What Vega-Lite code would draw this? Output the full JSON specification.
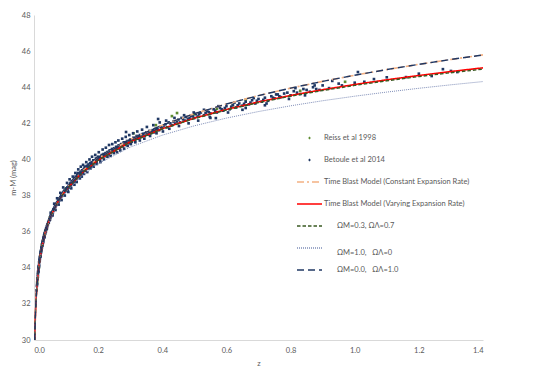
{
  "$schema": "https://vega.github.io/schema/vega-lite/v6.json",
  "width": 449,
  "height": 325,
  "autosize": {"type": "none"},
  "padding": {"left": 34, "top": 15, "right": 60, "bottom": 31},
  "background": "white",
  "config": {
    "view": {"stroke": null},
    "font": "Lato",
    "axis": {"labelFont": "Lato", "titleFont": "Lato", "labelColor": "#595959", "titleColor": "#595959", "labelFontSize": 7.5, "titleFontSize": 7.5, "titleFontWeight": "normal", "grid": false, "ticks": false, "domainColor": "#D9D9D9", "labelOverlap": false}
  },
  "datasets": {
    "pts": [
      {"z": 0.01, "mu": 33.2, "series": "Reiss et al 1998"},
      {"z": 0.015, "mu": 34.0, "series": "Reiss et al 1998"},
      {"z": 0.02, "mu": 34.75, "series": "Reiss et al 1998"},
      {"z": 0.025, "mu": 35.3, "series": "Reiss et al 1998"},
      {"z": 0.03, "mu": 35.65, "series": "Reiss et al 1998"},
      {"z": 0.035, "mu": 36.0, "series": "Reiss et al 1998"},
      {"z": 0.04, "mu": 36.2, "series": "Reiss et al 1998"},
      {"z": 0.05, "mu": 36.8, "series": "Reiss et al 1998"},
      {"z": 0.06, "mu": 37.2, "series": "Reiss et al 1998"},
      {"z": 0.075, "mu": 37.65, "series": "Reiss et al 1998"},
      {"z": 0.1, "mu": 38.4, "series": "Reiss et al 1998"},
      {"z": 0.125, "mu": 38.9, "series": "Reiss et al 1998"},
      {"z": 0.16, "mu": 39.5, "series": "Reiss et al 1998"},
      {"z": 0.31, "mu": 41.45, "series": "Reiss et al 1998"},
      {"z": 0.38, "mu": 41.9, "series": "Reiss et al 1998"},
      {"z": 0.43, "mu": 42.4, "series": "Reiss et al 1998"},
      {"z": 0.446, "mu": 42.57, "series": "Reiss et al 1998"},
      {"z": 0.5, "mu": 42.5, "series": "Reiss et al 1998"},
      {"z": 0.57, "mu": 42.8, "series": "Reiss et al 1998"},
      {"z": 0.62, "mu": 43.0, "series": "Reiss et al 1998"},
      {"z": 0.66, "mu": 43.3, "series": "Reiss et al 1998"},
      {"z": 0.83, "mu": 43.8, "series": "Reiss et al 1998"},
      {"z": 0.97, "mu": 44.3, "series": "Reiss et al 1998"},
      {"z": 0.008, "mu": 32.75, "series": "Betoule et al 2014"},
      {"z": 0.009, "mu": 33.0, "series": "Betoule et al 2014"},
      {"z": 0.010, "mu": 33.1, "series": "Betoule et al 2014"},
      {"z": 0.0105, "mu": 33.35, "series": "Betoule et al 2014"},
      {"z": 0.011, "mu": 33.4, "series": "Betoule et al 2014"},
      {"z": 0.0115, "mu": 33.42, "series": "Betoule et al 2014"},
      {"z": 0.012, "mu": 33.62, "series": "Betoule et al 2014"},
      {"z": 0.012, "mu": 33.5, "series": "Betoule et al 2014"},
      {"z": 0.0125, "mu": 33.72, "series": "Betoule et al 2014"},
      {"z": 0.013, "mu": 33.8, "series": "Betoule et al 2014"},
      {"z": 0.0135, "mu": 33.78, "series": "Betoule et al 2014"},
      {"z": 0.014, "mu": 33.95, "series": "Betoule et al 2014"},
      {"z": 0.014, "mu": 33.85, "series": "Betoule et al 2014"},
      {"z": 0.0145, "mu": 34.05, "series": "Betoule et al 2014"},
      {"z": 0.015, "mu": 34.1, "series": "Betoule et al 2014"},
      {"z": 0.0155, "mu": 34.05, "series": "Betoule et al 2014"},
      {"z": 0.016, "mu": 34.15, "series": "Betoule et al 2014"},
      {"z": 0.016, "mu": 34.3, "series": "Betoule et al 2014"},
      {"z": 0.0165, "mu": 34.35, "series": "Betoule et al 2014"},
      {"z": 0.017, "mu": 34.38, "series": "Betoule et al 2014"},
      {"z": 0.0175, "mu": 34.45, "series": "Betoule et al 2014"},
      {"z": 0.018, "mu": 34.5, "series": "Betoule et al 2014"},
      {"z": 0.018, "mu": 34.42, "series": "Betoule et al 2014"},
      {"z": 0.0185, "mu": 34.58, "series": "Betoule et al 2014"},
      {"z": 0.019, "mu": 34.62, "series": "Betoule et al 2014"},
      {"z": 0.0195, "mu": 34.65, "series": "Betoule et al 2014"},
      {"z": 0.020, "mu": 34.75, "series": "Betoule et al 2014"},
      {"z": 0.020, "mu": 34.63, "series": "Betoule et al 2014"},
      {"z": 0.0205, "mu": 34.78, "series": "Betoule et al 2014"},
      {"z": 0.021, "mu": 34.85, "series": "Betoule et al 2014"},
      {"z": 0.0215, "mu": 34.92, "series": "Betoule et al 2014"},
      {"z": 0.022, "mu": 34.95, "series": "Betoule et al 2014"},
      {"z": 0.022, "mu": 34.86, "series": "Betoule et al 2014"},
      {"z": 0.023, "mu": 35.05, "series": "Betoule et al 2014"},
      {"z": 0.0235, "mu": 35.1, "series": "Betoule et al 2014"},
      {"z": 0.024, "mu": 35.15, "series": "Betoule et al 2014"},
      {"z": 0.024, "mu": 35.02, "series": "Betoule et al 2014"},
      {"z": 0.0245, "mu": 35.12, "series": "Betoule et al 2014"},
      {"z": 0.025, "mu": 35.23, "series": "Betoule et al 2014"},
      {"z": 0.0255, "mu": 35.3, "series": "Betoule et al 2014"},
      {"z": 0.026, "mu": 35.35, "series": "Betoule et al 2014"},
      {"z": 0.026, "mu": 35.22, "series": "Betoule et al 2014"},
      {"z": 0.0265, "mu": 35.28, "series": "Betoule et al 2014"},
      {"z": 0.027, "mu": 35.4, "series": "Betoule et al 2014"},
      {"z": 0.0275, "mu": 35.48, "series": "Betoule et al 2014"},
      {"z": 0.028, "mu": 35.5, "series": "Betoule et al 2014"},
      {"z": 0.028, "mu": 35.38, "series": "Betoule et al 2014"},
      {"z": 0.0285, "mu": 35.45, "series": "Betoule et al 2014"},
      {"z": 0.029, "mu": 35.57, "series": "Betoule et al 2014"},
      {"z": 0.0295, "mu": 35.6, "series": "Betoule et al 2014"},
      {"z": 0.030, "mu": 35.62, "series": "Betoule et al 2014"},
      {"z": 0.0305, "mu": 35.68, "series": "Betoule et al 2014"},
      {"z": 0.031, "mu": 35.7, "series": "Betoule et al 2014"},
      {"z": 0.0315, "mu": 35.77, "series": "Betoule et al 2014"},
      {"z": 0.032, "mu": 35.8, "series": "Betoule et al 2014"},
      {"z": 0.032, "mu": 35.68, "series": "Betoule et al 2014"},
      {"z": 0.0325, "mu": 35.72, "series": "Betoule et al 2014"},
      {"z": 0.033, "mu": 35.85, "series": "Betoule et al 2014"},
      {"z": 0.0335, "mu": 35.9, "series": "Betoule et al 2014"},
      {"z": 0.034, "mu": 35.92, "series": "Betoule et al 2014"},
      {"z": 0.0345, "mu": 35.88, "series": "Betoule et al 2014"},
      {"z": 0.035, "mu": 35.98, "series": "Betoule et al 2014"},
      {"z": 0.0355, "mu": 36.05, "series": "Betoule et al 2014"},
      {"z": 0.036, "mu": 36.05, "series": "Betoule et al 2014"},
      {"z": 0.0365, "mu": 36.0, "series": "Betoule et al 2014"},
      {"z": 0.037, "mu": 36.02, "series": "Betoule et al 2014"},
      {"z": 0.0375, "mu": 36.12, "series": "Betoule et al 2014"},
      {"z": 0.038, "mu": 36.18, "series": "Betoule et al 2014"},
      {"z": 0.039, "mu": 36.15, "series": "Betoule et al 2014"},
      {"z": 0.040, "mu": 36.28, "series": "Betoule et al 2014"},
      {"z": 0.040, "mu": 36.18, "series": "Betoule et al 2014"},
      {"z": 0.041, "mu": 36.32, "series": "Betoule et al 2014"},
      {"z": 0.042, "mu": 36.4, "series": "Betoule et al 2014"},
      {"z": 0.043, "mu": 36.38, "series": "Betoule et al 2014"},
      {"z": 0.044, "mu": 36.48, "series": "Betoule et al 2014"},
      {"z": 0.045, "mu": 36.55, "series": "Betoule et al 2014"},
      {"z": 0.046, "mu": 36.5, "series": "Betoule et al 2014"},
      {"z": 0.047, "mu": 36.62, "series": "Betoule et al 2014"},
      {"z": 0.048, "mu": 36.7, "series": "Betoule et al 2014"},
      {"z": 0.049, "mu": 36.65, "series": "Betoule et al 2014"},
      {"z": 0.050, "mu": 36.78, "series": "Betoule et al 2014"},
      {"z": 0.050, "mu": 36.68, "series": "Betoule et al 2014"},
      {"z": 0.051, "mu": 36.82, "series": "Betoule et al 2014"},
      {"z": 0.052, "mu": 36.9, "series": "Betoule et al 2014"},
      {"z": 0.052, "mu": 37.05, "series": "Betoule et al 2014"},
      {"z": 0.053, "mu": 36.85, "series": "Betoule et al 2014"},
      {"z": 0.054, "mu": 36.98, "series": "Betoule et al 2014"},
      {"z": 0.055, "mu": 37.0, "series": "Betoule et al 2014"},
      {"z": 0.056, "mu": 37.05, "series": "Betoule et al 2014"},
      {"z": 0.057, "mu": 37.02, "series": "Betoule et al 2014"},
      {"z": 0.058, "mu": 37.12, "series": "Betoule et al 2014"},
      {"z": 0.058, "mu": 36.9, "series": "Betoule et al 2014"},
      {"z": 0.059, "mu": 37.08, "series": "Betoule et al 2014"},
      {"z": 0.060, "mu": 37.2, "series": "Betoule et al 2014"},
      {"z": 0.061, "mu": 37.25, "series": "Betoule et al 2014"},
      {"z": 0.062, "mu": 37.22, "series": "Betoule et al 2014"},
      {"z": 0.063, "mu": 37.25, "series": "Betoule et al 2014"},
      {"z": 0.063, "mu": 37.55, "series": "Betoule et al 2014"},
      {"z": 0.064, "mu": 37.32, "series": "Betoule et al 2014"},
      {"z": 0.065, "mu": 37.38, "series": "Betoule et al 2014"},
      {"z": 0.066, "mu": 37.36, "series": "Betoule et al 2014"},
      {"z": 0.067, "mu": 37.45, "series": "Betoule et al 2014"},
      {"z": 0.067, "mu": 37.2, "series": "Betoule et al 2014"},
      {"z": 0.068, "mu": 37.46, "series": "Betoule et al 2014"},
      {"z": 0.069, "mu": 37.48, "series": "Betoule et al 2014"},
      {"z": 0.070, "mu": 37.55, "series": "Betoule et al 2014"},
      {"z": 0.071, "mu": 37.52, "series": "Betoule et al 2014"},
      {"z": 0.072, "mu": 37.6, "series": "Betoule et al 2014"},
      {"z": 0.072, "mu": 37.85, "series": "Betoule et al 2014"},
      {"z": 0.073, "mu": 37.62, "series": "Betoule et al 2014"},
      {"z": 0.074, "mu": 37.58, "series": "Betoule et al 2014"},
      {"z": 0.075, "mu": 37.7, "series": "Betoule et al 2014"},
      {"z": 0.076, "mu": 37.72, "series": "Betoule et al 2014"},
      {"z": 0.077, "mu": 37.68, "series": "Betoule et al 2014"},
      {"z": 0.077, "mu": 37.5, "series": "Betoule et al 2014"},
      {"z": 0.078, "mu": 37.72, "series": "Betoule et al 2014"},
      {"z": 0.079, "mu": 37.8, "series": "Betoule et al 2014"},
      {"z": 0.080, "mu": 37.85, "series": "Betoule et al 2014"},
      {"z": 0.081, "mu": 37.82, "series": "Betoule et al 2014"},
      {"z": 0.082, "mu": 37.9, "series": "Betoule et al 2014"},
      {"z": 0.082, "mu": 38.15, "series": "Betoule et al 2014"},
      {"z": 0.083, "mu": 37.92, "series": "Betoule et al 2014"},
      {"z": 0.084, "mu": 37.92, "series": "Betoule et al 2014"},
      {"z": 0.085, "mu": 38.0, "series": "Betoule et al 2014"},
      {"z": 0.086, "mu": 38.02, "series": "Betoule et al 2014"},
      {"z": 0.086, "mu": 37.75, "series": "Betoule et al 2014"},
      {"z": 0.087, "mu": 37.98, "series": "Betoule et al 2014"},
      {"z": 0.088, "mu": 38.03, "series": "Betoule et al 2014"},
      {"z": 0.089, "mu": 38.1, "series": "Betoule et al 2014"},
      {"z": 0.090, "mu": 38.12, "series": "Betoule et al 2014"},
      {"z": 0.091, "mu": 38.1, "series": "Betoule et al 2014"},
      {"z": 0.091, "mu": 38.45, "series": "Betoule et al 2014"},
      {"z": 0.092, "mu": 38.2, "series": "Betoule et al 2014"},
      {"z": 0.093, "mu": 38.16, "series": "Betoule et al 2014"},
      {"z": 0.094, "mu": 38.2, "series": "Betoule et al 2014"},
      {"z": 0.095, "mu": 38.25, "series": "Betoule et al 2014"},
      {"z": 0.096, "mu": 38.3, "series": "Betoule et al 2014"},
      {"z": 0.096, "mu": 38.0, "series": "Betoule et al 2014"},
      {"z": 0.097, "mu": 38.22, "series": "Betoule et al 2014"},
      {"z": 0.098, "mu": 38.27, "series": "Betoule et al 2014"},
      {"z": 0.099, "mu": 38.35, "series": "Betoule et al 2014"},
      {"z": 0.101, "mu": 38.3, "series": "Betoule et al 2014"},
      {"z": 0.102, "mu": 38.4, "series": "Betoule et al 2014"},
      {"z": 0.103, "mu": 38.7, "series": "Betoule et al 2014"},
      {"z": 0.104, "mu": 38.45, "series": "Betoule et al 2014"},
      {"z": 0.105, "mu": 38.3, "series": "Betoule et al 2014"},
      {"z": 0.106, "mu": 38.42, "series": "Betoule et al 2014"},
      {"z": 0.107, "mu": 38.2, "series": "Betoule et al 2014"},
      {"z": 0.108, "mu": 38.55, "series": "Betoule et al 2014"},
      {"z": 0.109, "mu": 38.48, "series": "Betoule et al 2014"},
      {"z": 0.11, "mu": 38.45, "series": "Betoule et al 2014"},
      {"z": 0.111, "mu": 38.9, "series": "Betoule et al 2014"},
      {"z": 0.112, "mu": 38.6, "series": "Betoule et al 2014"},
      {"z": 0.113, "mu": 38.65, "series": "Betoule et al 2014"},
      {"z": 0.114, "mu": 38.7, "series": "Betoule et al 2014"},
      {"z": 0.115, "mu": 38.55, "series": "Betoule et al 2014"},
      {"z": 0.116, "mu": 38.4, "series": "Betoule et al 2014"},
      {"z": 0.117, "mu": 38.65, "series": "Betoule et al 2014"},
      {"z": 0.118, "mu": 38.8, "series": "Betoule et al 2014"},
      {"z": 0.119, "mu": 38.72, "series": "Betoule et al 2014"},
      {"z": 0.12, "mu": 38.7, "series": "Betoule et al 2014"},
      {"z": 0.121, "mu": 39.05, "series": "Betoule et al 2014"},
      {"z": 0.122, "mu": 38.82, "series": "Betoule et al 2014"},
      {"z": 0.123, "mu": 38.85, "series": "Betoule et al 2014"},
      {"z": 0.124, "mu": 38.78, "series": "Betoule et al 2014"},
      {"z": 0.125, "mu": 38.95, "series": "Betoule et al 2014"},
      {"z": 0.126, "mu": 38.6, "series": "Betoule et al 2014"},
      {"z": 0.127, "mu": 38.78, "series": "Betoule et al 2014"},
      {"z": 0.128, "mu": 38.95, "series": "Betoule et al 2014"},
      {"z": 0.129, "mu": 39.25, "series": "Betoule et al 2014"},
      {"z": 0.13, "mu": 39.05, "series": "Betoule et al 2014"},
      {"z": 0.131, "mu": 39.0, "series": "Betoule et al 2014"},
      {"z": 0.132, "mu": 38.92, "series": "Betoule et al 2014"},
      {"z": 0.133, "mu": 38.75, "series": "Betoule et al 2014"},
      {"z": 0.134, "mu": 38.98, "series": "Betoule et al 2014"},
      {"z": 0.135, "mu": 39.15, "series": "Betoule et al 2014"},
      {"z": 0.136, "mu": 39.1, "series": "Betoule et al 2014"},
      {"z": 0.137, "mu": 39.25, "series": "Betoule et al 2014"},
      {"z": 0.138, "mu": 39.45, "series": "Betoule et al 2014"},
      {"z": 0.139, "mu": 39.15, "series": "Betoule et al 2014"},
      {"z": 0.14, "mu": 39.05, "series": "Betoule et al 2014"},
      {"z": 0.141, "mu": 39.1, "series": "Betoule et al 2014"},
      {"z": 0.142, "mu": 39.2, "series": "Betoule et al 2014"},
      {"z": 0.143, "mu": 38.95, "series": "Betoule et al 2014"},
      {"z": 0.144, "mu": 39.22, "series": "Betoule et al 2014"},
      {"z": 0.145, "mu": 39.3, "series": "Betoule et al 2014"},
      {"z": 0.146, "mu": 39.6, "series": "Betoule et al 2014"},
      {"z": 0.147, "mu": 39.32, "series": "Betoule et al 2014"},
      {"z": 0.148, "mu": 39.18, "series": "Betoule et al 2014"},
      {"z": 0.149, "mu": 39.05, "series": "Betoule et al 2014"},
      {"z": 0.15, "mu": 39.4, "series": "Betoule et al 2014"},
      {"z": 0.151, "mu": 39.35, "series": "Betoule et al 2014"},
      {"z": 0.152, "mu": 39.28, "series": "Betoule et al 2014"},
      {"z": 0.153, "mu": 39.7, "series": "Betoule et al 2014"},
      {"z": 0.154, "mu": 39.38, "series": "Betoule et al 2014"},
      {"z": 0.155, "mu": 39.45, "series": "Betoule et al 2014"},
      {"z": 0.156, "mu": 39.2, "series": "Betoule et al 2014"},
      {"z": 0.157, "mu": 39.48, "series": "Betoule et al 2014"},
      {"z": 0.158, "mu": 39.6, "series": "Betoule et al 2014"},
      {"z": 0.159, "mu": 39.45, "series": "Betoule et al 2014"},
      {"z": 0.16, "mu": 39.38, "series": "Betoule et al 2014"},
      {"z": 0.161, "mu": 39.58, "series": "Betoule et al 2014"},
      {"z": 0.162, "mu": 39.52, "series": "Betoule et al 2014"},
      {"z": 0.163, "mu": 39.85, "series": "Betoule et al 2014"},
      {"z": 0.164, "mu": 39.55, "series": "Betoule et al 2014"},
      {"z": 0.165, "mu": 39.65, "series": "Betoule et al 2014"},
      {"z": 0.166, "mu": 39.3, "series": "Betoule et al 2014"},
      {"z": 0.167, "mu": 39.6, "series": "Betoule et al 2014"},
      {"z": 0.168, "mu": 39.5, "series": "Betoule et al 2014"},
      {"z": 0.169, "mu": 39.62, "series": "Betoule et al 2014"},
      {"z": 0.17, "mu": 39.72, "series": "Betoule et al 2014"},
      {"z": 0.171, "mu": 39.68, "series": "Betoule et al 2014"},
      {"z": 0.172, "mu": 39.58, "series": "Betoule et al 2014"},
      {"z": 0.173, "mu": 40.0, "series": "Betoule et al 2014"},
      {"z": 0.174, "mu": 39.7, "series": "Betoule et al 2014"},
      {"z": 0.175, "mu": 39.8, "series": "Betoule et al 2014"},
      {"z": 0.176, "mu": 39.5, "series": "Betoule et al 2014"},
      {"z": 0.177, "mu": 39.75, "series": "Betoule et al 2014"},
      {"z": 0.178, "mu": 39.62, "series": "Betoule et al 2014"},
      {"z": 0.179, "mu": 39.72, "series": "Betoule et al 2014"},
      {"z": 0.18, "mu": 39.85, "series": "Betoule et al 2014"},
      {"z": 0.181, "mu": 40.15, "series": "Betoule et al 2014"},
      {"z": 0.182, "mu": 39.8, "series": "Betoule et al 2014"},
      {"z": 0.183, "mu": 39.74, "series": "Betoule et al 2014"},
      {"z": 0.184, "mu": 39.85, "series": "Betoule et al 2014"},
      {"z": 0.185, "mu": 39.95, "series": "Betoule et al 2014"},
      {"z": 0.186, "mu": 39.6, "series": "Betoule et al 2014"},
      {"z": 0.187, "mu": 39.9, "series": "Betoule et al 2014"},
      {"z": 0.188, "mu": 39.78, "series": "Betoule et al 2014"},
      {"z": 0.189, "mu": 39.88, "series": "Betoule et al 2014"},
      {"z": 0.19, "mu": 39.9, "series": "Betoule et al 2014"},
      {"z": 0.191, "mu": 40.25, "series": "Betoule et al 2014"},
      {"z": 0.192, "mu": 39.95, "series": "Betoule et al 2014"},
      {"z": 0.193, "mu": 40.05, "series": "Betoule et al 2014"},
      {"z": 0.194, "mu": 39.93, "series": "Betoule et al 2014"},
      {"z": 0.195, "mu": 39.85, "series": "Betoule et al 2014"},
      {"z": 0.196, "mu": 39.75, "series": "Betoule et al 2014"},
      {"z": 0.197, "mu": 40.08, "series": "Betoule et al 2014"},
      {"z": 0.198, "mu": 40.0, "series": "Betoule et al 2014"},
      {"z": 0.2, "mu": 40.15, "series": "Betoule et al 2014"},
      {"z": 0.201, "mu": 40.05, "series": "Betoule et al 2014"},
      {"z": 0.202, "mu": 40.4, "series": "Betoule et al 2014"},
      {"z": 0.203, "mu": 40.1, "series": "Betoule et al 2014"},
      {"z": 0.205, "mu": 40.12, "series": "Betoule et al 2014"},
      {"z": 0.206, "mu": 39.98, "series": "Betoule et al 2014"},
      {"z": 0.207, "mu": 39.85, "series": "Betoule et al 2014"},
      {"z": 0.208, "mu": 40.15, "series": "Betoule et al 2014"},
      {"z": 0.21, "mu": 40.2, "series": "Betoule et al 2014"},
      {"z": 0.212, "mu": 40.25, "series": "Betoule et al 2014"},
      {"z": 0.213, "mu": 40.12, "series": "Betoule et al 2014"},
      {"z": 0.214, "mu": 40.55, "series": "Betoule et al 2014"},
      {"z": 0.215, "mu": 40.22, "series": "Betoule et al 2014"},
      {"z": 0.217, "mu": 40.3, "series": "Betoule et al 2014"},
      {"z": 0.218, "mu": 40.0, "series": "Betoule et al 2014"},
      {"z": 0.219, "mu": 40.28, "series": "Betoule et al 2014"},
      {"z": 0.22, "mu": 40.18, "series": "Betoule et al 2014"},
      {"z": 0.223, "mu": 40.35, "series": "Betoule et al 2014"},
      {"z": 0.224, "mu": 40.65, "series": "Betoule et al 2014"},
      {"z": 0.225, "mu": 40.32, "series": "Betoule et al 2014"},
      {"z": 0.226, "mu": 40.25, "series": "Betoule et al 2014"},
      {"z": 0.228, "mu": 40.38, "series": "Betoule et al 2014"},
      {"z": 0.229, "mu": 40.15, "series": "Betoule et al 2014"},
      {"z": 0.23, "mu": 40.42, "series": "Betoule et al 2014"},
      {"z": 0.232, "mu": 40.36, "series": "Betoule et al 2014"},
      {"z": 0.233, "mu": 40.28, "series": "Betoule et al 2014"},
      {"z": 0.234, "mu": 40.8, "series": "Betoule et al 2014"},
      {"z": 0.235, "mu": 40.42, "series": "Betoule et al 2014"},
      {"z": 0.236, "mu": 40.5, "series": "Betoule et al 2014"},
      {"z": 0.238, "mu": 40.48, "series": "Betoule et al 2014"},
      {"z": 0.239, "mu": 40.2, "series": "Betoule et al 2014"},
      {"z": 0.24, "mu": 40.4, "series": "Betoule et al 2014"},
      {"z": 0.243, "mu": 40.58, "series": "Betoule et al 2014"},
      {"z": 0.244, "mu": 40.85, "series": "Betoule et al 2014"},
      {"z": 0.245, "mu": 40.52, "series": "Betoule et al 2014"},
      {"z": 0.246, "mu": 40.45, "series": "Betoule et al 2014"},
      {"z": 0.248, "mu": 40.55, "series": "Betoule et al 2014"},
      {"z": 0.249, "mu": 40.35, "series": "Betoule et al 2014"},
      {"z": 0.25, "mu": 40.62, "series": "Betoule et al 2014"},
      {"z": 0.253, "mu": 40.5, "series": "Betoule et al 2014"},
      {"z": 0.254, "mu": 40.95, "series": "Betoule et al 2014"},
      {"z": 0.255, "mu": 40.6, "series": "Betoule et al 2014"},
      {"z": 0.256, "mu": 40.7, "series": "Betoule et al 2014"},
      {"z": 0.258, "mu": 40.65, "series": "Betoule et al 2014"},
      {"z": 0.259, "mu": 40.4, "series": "Betoule et al 2014"},
      {"z": 0.26, "mu": 40.6, "series": "Betoule et al 2014"},
      {"z": 0.262, "mu": 40.7, "series": "Betoule et al 2014"},
      {"z": 0.263, "mu": 41.05, "series": "Betoule et al 2014"},
      {"z": 0.264, "mu": 40.78, "series": "Betoule et al 2014"},
      {"z": 0.266, "mu": 40.72, "series": "Betoule et al 2014"},
      {"z": 0.268, "mu": 40.65, "series": "Betoule et al 2014"},
      {"z": 0.269, "mu": 40.5, "series": "Betoule et al 2014"},
      {"z": 0.27, "mu": 40.8, "series": "Betoule et al 2014"},
      {"z": 0.272, "mu": 40.85, "series": "Betoule et al 2014"},
      {"z": 0.274, "mu": 40.82, "series": "Betoule et al 2014"},
      {"z": 0.275, "mu": 41.15, "series": "Betoule et al 2014"},
      {"z": 0.276, "mu": 40.72, "series": "Betoule et al 2014"},
      {"z": 0.278, "mu": 40.86, "series": "Betoule et al 2014"},
      {"z": 0.28, "mu": 40.95, "series": "Betoule et al 2014"},
      {"z": 0.281, "mu": 40.6, "series": "Betoule et al 2014"},
      {"z": 0.283, "mu": 40.9, "series": "Betoule et al 2014"},
      {"z": 0.285, "mu": 40.8, "series": "Betoule et al 2014"},
      {"z": 0.286, "mu": 41.25, "series": "Betoule et al 2014"},
      {"z": 0.287, "mu": 41.52, "series": "Betoule et al 2014"},
      {"z": 0.288, "mu": 40.95, "series": "Betoule et al 2014"},
      {"z": 0.29, "mu": 41.02, "series": "Betoule et al 2014"},
      {"z": 0.292, "mu": 40.75, "series": "Betoule et al 2014"},
      {"z": 0.293, "mu": 41.0, "series": "Betoule et al 2014"},
      {"z": 0.295, "mu": 40.9, "series": "Betoule et al 2014"},
      {"z": 0.297, "mu": 41.35, "series": "Betoule et al 2014"},
      {"z": 0.298, "mu": 41.02, "series": "Betoule et al 2014"},
      {"z": 0.3, "mu": 41.1, "series": "Betoule et al 2014"},
      {"z": 0.302, "mu": 40.85, "series": "Betoule et al 2014"},
      {"z": 0.303, "mu": 41.08, "series": "Betoule et al 2014"},
      {"z": 0.305, "mu": 40.98, "series": "Betoule et al 2014"},
      {"z": 0.308, "mu": 41.1, "series": "Betoule et al 2014"},
      {"z": 0.309, "mu": 41.45, "series": "Betoule et al 2014"},
      {"z": 0.31, "mu": 41.2, "series": "Betoule et al 2014"},
      {"z": 0.313, "mu": 41.15, "series": "Betoule et al 2014"},
      {"z": 0.315, "mu": 41.08, "series": "Betoule et al 2014"},
      {"z": 0.316, "mu": 40.95, "series": "Betoule et al 2014"},
      {"z": 0.318, "mu": 41.2, "series": "Betoule et al 2014"},
      {"z": 0.32, "mu": 41.3, "series": "Betoule et al 2014"},
      {"z": 0.322, "mu": 41.55, "series": "Betoule et al 2014"},
      {"z": 0.323, "mu": 41.25, "series": "Betoule et al 2014"},
      {"z": 0.325, "mu": 41.15, "series": "Betoule et al 2014"},
      {"z": 0.328, "mu": 41.28, "series": "Betoule et al 2014"},
      {"z": 0.33, "mu": 41.35, "series": "Betoule et al 2014"},
      {"z": 0.33, "mu": 41.05, "series": "Betoule et al 2014"},
      {"z": 0.335, "mu": 41.25, "series": "Betoule et al 2014"},
      {"z": 0.337, "mu": 41.65, "series": "Betoule et al 2014"},
      {"z": 0.338, "mu": 41.38, "series": "Betoule et al 2014"},
      {"z": 0.34, "mu": 41.42, "series": "Betoule et al 2014"},
      {"z": 0.344, "mu": 41.15, "series": "Betoule et al 2014"},
      {"z": 0.345, "mu": 41.3, "series": "Betoule et al 2014"},
      {"z": 0.348, "mu": 41.45, "series": "Betoule et al 2014"},
      {"z": 0.35, "mu": 41.5, "series": "Betoule et al 2014"},
      {"z": 0.352, "mu": 41.8, "series": "Betoule et al 2014"},
      {"z": 0.355, "mu": 41.38, "series": "Betoule et al 2014"},
      {"z": 0.358, "mu": 41.5, "series": "Betoule et al 2014"},
      {"z": 0.36, "mu": 41.58, "series": "Betoule et al 2014"},
      {"z": 0.362, "mu": 41.3, "series": "Betoule et al 2014"},
      {"z": 0.365, "mu": 41.45, "series": "Betoule et al 2014"},
      {"z": 0.368, "mu": 41.55, "series": "Betoule et al 2014"},
      {"z": 0.37, "mu": 41.62, "series": "Betoule et al 2014"},
      {"z": 0.372, "mu": 41.9, "series": "Betoule et al 2014"},
      {"z": 0.375, "mu": 41.5, "series": "Betoule et al 2014"},
      {"z": 0.378, "mu": 41.6, "series": "Betoule et al 2014"},
      {"z": 0.38, "mu": 41.7, "series": "Betoule et al 2014"},
      {"z": 0.382, "mu": 41.45, "series": "Betoule et al 2014"},
      {"z": 0.385, "mu": 41.68, "series": "Betoule et al 2014"},
      {"z": 0.387, "mu": 42.24, "series": "Betoule et al 2014"},
      {"z": 0.39, "mu": 41.62, "series": "Betoule et al 2014"},
      {"z": 0.392, "mu": 42.05, "series": "Betoule et al 2014"},
      {"z": 0.395, "mu": 41.8, "series": "Betoule et al 2014"},
      {"z": 0.398, "mu": 41.72, "series": "Betoule et al 2014"},
      {"z": 0.4, "mu": 41.75, "series": "Betoule et al 2014"},
      {"z": 0.402, "mu": 41.55, "series": "Betoule et al 2014"},
      {"z": 0.405, "mu": 41.88, "series": "Betoule et al 2014"},
      {"z": 0.41, "mu": 41.95, "series": "Betoule et al 2014"},
      {"z": 0.412, "mu": 42.15, "series": "Betoule et al 2014"},
      {"z": 0.415, "mu": 41.78, "series": "Betoule et al 2014"},
      {"z": 0.42, "mu": 42.05, "series": "Betoule et al 2014"},
      {"z": 0.422, "mu": 41.7, "series": "Betoule et al 2014"},
      {"z": 0.425, "mu": 42.0, "series": "Betoule et al 2014"},
      {"z": 0.43, "mu": 41.9, "series": "Betoule et al 2014"},
      {"z": 0.435, "mu": 42.1, "series": "Betoule et al 2014"},
      {"z": 0.438, "mu": 42.3, "series": "Betoule et al 2014"},
      {"z": 0.44, "mu": 41.98, "series": "Betoule et al 2014"},
      {"z": 0.445, "mu": 42.1, "series": "Betoule et al 2014"},
      {"z": 0.45, "mu": 42.2, "series": "Betoule et al 2014"},
      {"z": 0.452, "mu": 41.85, "series": "Betoule et al 2014"},
      {"z": 0.455, "mu": 42.05, "series": "Betoule et al 2014"},
      {"z": 0.46, "mu": 42.3, "series": "Betoule et al 2014"},
      {"z": 0.465, "mu": 42.22, "series": "Betoule et al 2014"},
      {"z": 0.468, "mu": 42.45, "series": "Betoule et al 2014"},
      {"z": 0.47, "mu": 42.15, "series": "Betoule et al 2014"},
      {"z": 0.475, "mu": 42.35, "series": "Betoule et al 2014"},
      {"z": 0.48, "mu": 42.22, "series": "Betoule et al 2014"},
      {"z": 0.482, "mu": 42.0, "series": "Betoule et al 2014"},
      {"z": 0.485, "mu": 42.3, "series": "Betoule et al 2014"},
      {"z": 0.49, "mu": 42.42, "series": "Betoule et al 2014"},
      {"z": 0.495, "mu": 42.38, "series": "Betoule et al 2014"},
      {"z": 0.498, "mu": 42.6, "series": "Betoule et al 2014"},
      {"z": 0.5, "mu": 42.3, "series": "Betoule et al 2014"},
      {"z": 0.505, "mu": 42.52, "series": "Betoule et al 2014"},
      {"z": 0.51, "mu": 42.38, "series": "Betoule et al 2014"},
      {"z": 0.512, "mu": 42.15, "series": "Betoule et al 2014"},
      {"z": 0.515, "mu": 42.5, "series": "Betoule et al 2014"},
      {"z": 0.52, "mu": 42.6, "series": "Betoule et al 2014"},
      {"z": 0.53, "mu": 42.45, "series": "Betoule et al 2014"},
      {"z": 0.53, "mu": 42.75, "series": "Betoule et al 2014"},
      {"z": 0.535, "mu": 42.58, "series": "Betoule et al 2014"},
      {"z": 0.54, "mu": 42.68, "series": "Betoule et al 2014"},
      {"z": 0.545, "mu": 42.62, "series": "Betoule et al 2014"},
      {"z": 0.548, "mu": 42.35, "series": "Betoule et al 2014"},
      {"z": 0.55, "mu": 42.55, "series": "Betoule et al 2014"},
      {"z": 0.55, "mu": 42.3, "series": "Betoule et al 2014"},
      {"z": 0.56, "mu": 42.78, "series": "Betoule et al 2014"},
      {"z": 0.565, "mu": 42.7, "series": "Betoule et al 2014"},
      {"z": 0.567, "mu": 42.29, "series": "Betoule et al 2014"},
      {"z": 0.57, "mu": 42.6, "series": "Betoule et al 2014"},
      {"z": 0.575, "mu": 42.95, "series": "Betoule et al 2014"},
      {"z": 0.58, "mu": 42.85, "series": "Betoule et al 2014"},
      {"z": 0.585, "mu": 42.78, "series": "Betoule et al 2014"},
      {"z": 0.59, "mu": 42.7, "series": "Betoule et al 2014"},
      {"z": 0.595, "mu": 42.85, "series": "Betoule et al 2014"},
      {"z": 0.6, "mu": 42.95, "series": "Betoule et al 2014"},
      {"z": 0.605, "mu": 42.6, "series": "Betoule et al 2014"},
      {"z": 0.61, "mu": 42.78, "series": "Betoule et al 2014"},
      {"z": 0.615, "mu": 42.92, "series": "Betoule et al 2014"},
      {"z": 0.62, "mu": 43.02, "series": "Betoule et al 2014"},
      {"z": 0.625, "mu": 43.15, "series": "Betoule et al 2014"},
      {"z": 0.63, "mu": 42.88, "series": "Betoule et al 2014"},
      {"z": 0.635, "mu": 43.0, "series": "Betoule et al 2014"},
      {"z": 0.64, "mu": 43.1, "series": "Betoule et al 2014"},
      {"z": 0.65, "mu": 42.98, "series": "Betoule et al 2014"},
      {"z": 0.65, "mu": 42.75, "series": "Betoule et al 2014"},
      {"z": 0.655, "mu": 43.08, "series": "Betoule et al 2014"},
      {"z": 0.66, "mu": 43.2, "series": "Betoule et al 2014"},
      {"z": 0.66, "mu": 42.85, "series": "Betoule et al 2014"},
      {"z": 0.67, "mu": 43.05, "series": "Betoule et al 2014"},
      {"z": 0.675, "mu": 43.15, "series": "Betoule et al 2014"},
      {"z": 0.68, "mu": 43.28, "series": "Betoule et al 2014"},
      {"z": 0.685, "mu": 43.4, "series": "Betoule et al 2014"},
      {"z": 0.69, "mu": 43.1, "series": "Betoule et al 2014"},
      {"z": 0.695, "mu": 43.25, "series": "Betoule et al 2014"},
      {"z": 0.7, "mu": 43.35, "series": "Betoule et al 2014"},
      {"z": 0.71, "mu": 43.2, "series": "Betoule et al 2014"},
      {"z": 0.715, "mu": 43.3, "series": "Betoule et al 2014"},
      {"z": 0.72, "mu": 43.42, "series": "Betoule et al 2014"},
      {"z": 0.72, "mu": 43.0, "series": "Betoule et al 2014"},
      {"z": 0.725, "mu": 43.1, "series": "Betoule et al 2014"},
      {"z": 0.73, "mu": 43.25, "series": "Betoule et al 2014"},
      {"z": 0.74, "mu": 43.5, "series": "Betoule et al 2014"},
      {"z": 0.745, "mu": 43.42, "series": "Betoule et al 2014"},
      {"z": 0.75, "mu": 43.38, "series": "Betoule et al 2014"},
      {"z": 0.755, "mu": 43.6, "series": "Betoule et al 2014"},
      {"z": 0.76, "mu": 43.6, "series": "Betoule et al 2014"},
      {"z": 0.765, "mu": 43.5, "series": "Betoule et al 2014"},
      {"z": 0.77, "mu": 43.45, "series": "Betoule et al 2014"},
      {"z": 0.78, "mu": 43.65, "series": "Betoule et al 2014"},
      {"z": 0.79, "mu": 43.7, "series": "Betoule et al 2014"},
      {"z": 0.795, "mu": 43.35, "series": "Betoule et al 2014"},
      {"z": 0.8, "mu": 43.55, "series": "Betoule et al 2014"},
      {"z": 0.81, "mu": 43.78, "series": "Betoule et al 2014"},
      {"z": 0.815, "mu": 43.95, "series": "Betoule et al 2014"},
      {"z": 0.82, "mu": 43.7, "series": "Betoule et al 2014"},
      {"z": 0.83, "mu": 43.62, "series": "Betoule et al 2014"},
      {"z": 0.84, "mu": 43.9, "series": "Betoule et al 2014"},
      {"z": 0.845, "mu": 43.55, "series": "Betoule et al 2014"},
      {"z": 0.85, "mu": 43.85, "series": "Betoule et al 2014"},
      {"z": 0.86, "mu": 43.75, "series": "Betoule et al 2014"},
      {"z": 0.87, "mu": 44.0, "series": "Betoule et al 2014"},
      {"z": 0.875, "mu": 44.1, "series": "Betoule et al 2014"},
      {"z": 0.88, "mu": 43.9, "series": "Betoule et al 2014"},
      {"z": 0.89, "mu": 43.85, "series": "Betoule et al 2014"},
      {"z": 0.9, "mu": 44.1, "series": "Betoule et al 2014"},
      {"z": 0.92, "mu": 43.95, "series": "Betoule et al 2014"},
      {"z": 0.93, "mu": 44.35, "series": "Betoule et al 2014"},
      {"z": 0.95, "mu": 44.2, "series": "Betoule et al 2014"},
      {"z": 0.96, "mu": 44.1, "series": "Betoule et al 2014"},
      {"z": 1.0, "mu": 44.25, "series": "Betoule et al 2014"},
      {"z": 1.01, "mu": 44.84, "series": "Betoule et al 2014"},
      {"z": 1.03, "mu": 44.3, "series": "Betoule et al 2014"},
      {"z": 1.06, "mu": 44.45, "series": "Betoule et al 2014"},
      {"z": 1.1, "mu": 44.55, "series": "Betoule et al 2014"},
      {"z": 1.16, "mu": 44.56, "series": "Betoule et al 2014"},
      {"z": 1.2, "mu": 44.75, "series": "Betoule et al 2014"},
      {"z": 1.24, "mu": 44.62, "series": "Betoule et al 2014"},
      {"z": 1.275, "mu": 45.0, "series": "Betoule et al 2014"},
      {"z": 1.3, "mu": 44.9, "series": "Betoule et al 2014"},
      {"z": 1.32, "mu": 44.84, "series": "Betoule et al 2014"}
    ],
    "curves": [
      {"z": 0.0023, "ds": 29.97, "lcdm": 29.97, "tbv": 29.97, "eds": 29.97},
      {"z": 0.003, "ds": 30.55, "lcdm": 30.55, "tbv": 30.55, "eds": 30.55},
      {"z": 0.004, "ds": 31.17, "lcdm": 31.17, "tbv": 31.17, "eds": 31.17},
      {"z": 0.005, "ds": 31.664, "lcdm": 31.662, "tbv": 31.662, "eds": 31.656},
      {"z": 0.0075, "ds": 32.54, "lcdm": 32.54, "tbv": 32.54, "eds": 32.535},
      {"z": 0.01, "ds": 33.18, "lcdm": 33.175, "tbv": 33.176, "eds": 33.164},
      {"z": 0.015, "ds": 34.071, "lcdm": 34.064, "tbv": 34.065, "eds": 34.047},
      {"z": 0.02, "ds": 34.707, "lcdm": 34.697, "tbv": 34.698, "eds": 34.675},
      {"z": 0.03, "ds": 35.609, "lcdm": 35.594, "tbv": 35.596, "eds": 35.561},
      {"z": 0.04, "ds": 36.254, "lcdm": 36.236, "tbv": 36.238, "eds": 36.191},
      {"z": 0.05, "ds": 36.76, "lcdm": 36.736, "tbv": 36.739, "eds": 36.68},
      {"z": 0.075, "ds": 37.691, "lcdm": 37.657, "tbv": 37.661, "eds": 37.573},
      {"z": 0.1, "ds": 38.366, "lcdm": 38.315, "tbv": 38.32, "eds": 38.21},
      {"z": 0.15, "ds": 39.343, "lcdm": 39.266, "tbv": 39.274, "eds": 39.114},
      {"z": 0.2, "ds": 40.06, "lcdm": 39.956, "tbv": 39.966, "eds": 39.761},
      {"z": 0.3, "ds": 41.114, "lcdm": 40.956, "tbv": 40.971, "eds": 40.682},
      {"z": 0.4, "ds": 41.9, "lcdm": 41.685, "tbv": 41.705, "eds": 41.344},
      {"z": 0.5, "ds": 42.534, "lcdm": 42.261, "tbv": 42.286, "eds": 41.863},
      {"z": 0.6, "ds": 43.07, "lcdm": 42.739, "tbv": 42.769, "eds": 42.29},
      {"z": 0.7, "ds": 43.536, "lcdm": 43.147, "tbv": 43.182, "eds": 42.653},
      {"z": 0.8, "ds": 43.951, "lcdm": 43.503, "tbv": 43.543, "eds": 42.97},
      {"z": 0.9, "ds": 44.324, "lcdm": 43.818, "tbv": 43.863, "eds": 43.251},
      {"z": 1.0, "ds": 44.664, "lcdm": 44.1, "tbv": 44.15, "eds": 43.503},
      {"z": 1.1, "ds": 44.977, "lcdm": 44.356, "tbv": 44.411, "eds": 43.731},
      {"z": 1.2, "ds": 45.267, "lcdm": 44.59, "tbv": 44.65, "eds": 43.941},
      {"z": 1.3, "ds": 45.537, "lcdm": 44.805, "tbv": 44.87, "eds": 44.134},
      {"z": 1.4, "ds": 45.79, "lcdm": 45.004, "tbv": 45.074, "eds": 44.313}
    ]
  },
  "layer": [
    {
      "data": {"name": "pts"},
      "mark": {"type": "point", "shape": "square", "filled": true, "size": 7, "opacity": 1},
      "encoding": {
        "x": {"field": "z", "type": "quantitative", "scale": {"domain": [0, 1.4], "nice": false}, "axis": {"title": "z", "values": [0, 0.2, 0.4, 0.6, 0.8, 1.0, 1.2, 1.4], "tickCount": 20, "format": ".1f", "labelPadding": 6, "titlePadding": 6}},
        "y": {"field": "mu", "type": "quantitative", "scale": {"domain": [30, 48], "nice": false, "zero": false}, "axis": {"title": "m-M (mag)", "values": [30, 32, 34, 36, 38, 40, 42, 44, 46, 48], "tickCount": 20, "format": "d", "labelPadding": 4, "titlePadding": 4}},
        "color": {
          "field": "series", "type": "nominal",
          "scale": {
            "domain": ["Reiss et al 1998", "Betoule et al 2014", "Time Blast Model (Constant Expansion Rate)", "Time Blast Model (Varying Expansion Rate)", "ΩM=0.3, ΩΛ=0.7", "ΩM=1.0,\u00a0\u00a0 ΩΛ=0", "ΩM=0.0,\u00a0\u00a0 ΩΛ=1.0"],
            "range": ["#5E8C31", "#203864", "#F4B183", "#FF0000", "#3A5A22", "#7F8EB8", "#203864"]
          },
          "legend": {
            "orient": "none", "legendX": 262, "legendY": 112, "title": null, "padding": 0,
            "symbolSize": 625, "labelFont": "Lato", "labelFontSize": 7.5, "labelColor": "#595959", "labelOffset": 1,
            "rowPadding": 0, "clipHeight": 22, "symbolOpacity": 1, "symbolStrokeWidth": 1.5,
            "encode": {
              "symbols": {
                "update": {
                  "size": {"value": 625},
                  "shape": {"signal": "indexof(['Reiss et al 1998','Betoule et al 2014'], datum.value) >= 0 ? 'M-0.04,-0.04H0.04V0.04H-0.04Z' : 'M-1,0H1'"},
                  "fill": {"signal": "indexof(['Reiss et al 1998','Betoule et al 2014'], datum.value) >= 0 ? scale('color', datum.value) : 'transparent'"},
                  "stroke": {"scale": "color", "field": "value"},
                  "strokeWidth": {"value": 1.5},
                  "strokeDash": {"scale": "strokeDash", "field": "value"},
                  "opacity": {"value": 1}
                }
              },
              "labels": {
                "update": {
                  "dx": {"signal": "indexof(datum.value, 'Ω') >= 0 ? 13 : 0"},
                  "dy": {"signal": "indexof(datum.value, 'ΩM=1.0') >= 0 ? 5 : 0"}
                }
              }
            }
          }
        }
      }
    },
    {
      "data": {"name": "curves"},
      "transform": [{"fold": ["ds", "tbv", "lcdm", "eds"], "as": ["model", "mu"]}],
      "layer": [
        {
          "transform": [{"filter": "datum.model === 'ds'"}, {"calculate": "'Time Blast Model (Constant Expansion Rate)'", "as": "series"}],
          "mark": {"type": "line", "strokeWidth": 1.6, "clip": true},
          "encoding": {
            "x": {"field": "z", "type": "quantitative"},
            "y": {"field": "mu", "type": "quantitative"},
            "color": {"field": "series", "type": "nominal"},
            "strokeDash": {"field": "series", "type": "nominal", "legend": null, "scale": {
              "domain": ["Reiss et al 1998", "Betoule et al 2014", "Time Blast Model (Constant Expansion Rate)", "Time Blast Model (Varying Expansion Rate)", "ΩM=0.3, ΩΛ=0.7", "ΩM=1.0,\u00a0\u00a0 ΩΛ=0", "ΩM=0.0,\u00a0\u00a0 ΩΛ=1.0"],
              "range": [[1, 0], [1, 0], [7, 3, 2, 3], [1, 0], [3.5, 2], [1, 1], [7, 4]]
            }}
          }
        },
        {
          "transform": [{"filter": "datum.model === 'tbv'"}, {"calculate": "'Time Blast Model (Varying Expansion Rate)'", "as": "series"}],
          "mark": {"type": "line", "strokeWidth": 1.6, "clip": true},
          "encoding": {
            "x": {"field": "z", "type": "quantitative"},
            "y": {"field": "mu", "type": "quantitative"},
            "color": {"field": "series", "type": "nominal"},
            "strokeDash": {"field": "series", "type": "nominal", "legend": null}
          }
        },
        {
          "transform": [{"filter": "datum.model === 'lcdm'"}, {"calculate": "'ΩM=0.3, ΩΛ=0.7'", "as": "series"}],
          "mark": {"type": "line", "strokeWidth": 1.4, "clip": true},
          "encoding": {
            "x": {"field": "z", "type": "quantitative"},
            "y": {"field": "mu", "type": "quantitative"},
            "color": {"field": "series", "type": "nominal"},
            "strokeDash": {"field": "series", "type": "nominal", "legend": null}
          }
        },
        {
          "transform": [{"filter": "datum.model === 'eds'"}, {"calculate": "'ΩM=1.0,\u00a0\u00a0 ΩΛ=0'", "as": "series"}],
          "mark": {"type": "line", "strokeWidth": 1, "clip": true},
          "encoding": {
            "x": {"field": "z", "type": "quantitative"},
            "y": {"field": "mu", "type": "quantitative"},
            "color": {"field": "series", "type": "nominal"},
            "strokeDash": {"field": "series", "type": "nominal", "legend": null}
          }
        },
        {
          "transform": [{"filter": "datum.model === 'ds'"}, {"calculate": "'ΩM=0.0,\u00a0\u00a0 ΩΛ=1.0'", "as": "series"}],
          "mark": {"type": "line", "strokeWidth": 1.4, "clip": true},
          "encoding": {
            "x": {"field": "z", "type": "quantitative"},
            "y": {"field": "mu", "type": "quantitative"},
            "color": {"field": "series", "type": "nominal"},
            "strokeDash": {"field": "series", "type": "nominal", "legend": null}
          }
        }
      ]
    },
    {
      "mark": {"type": "text", "align": "left", "baseline": "middle", "font": "Lato", "fontSize": 7, "color": "#595959"},
      "encoding": {"x": {"datum": 0.583}, "y": {"datum": 33.88}, "text": {"value": "ΩM=0.3, ΩΛ=0.7"}}
    },
    {
      "mark": {"type": "text", "align": "left", "baseline": "middle", "font": "Lato", "fontSize": 7, "color": "#595959"},
      "encoding": {"x": {"datum": 0.583}, "y": {"datum": 32.93}, "text": {"value": "ΩM=1.0,\u00a0\u00a0 ΩΛ=0"}}
    }
  ]
}
